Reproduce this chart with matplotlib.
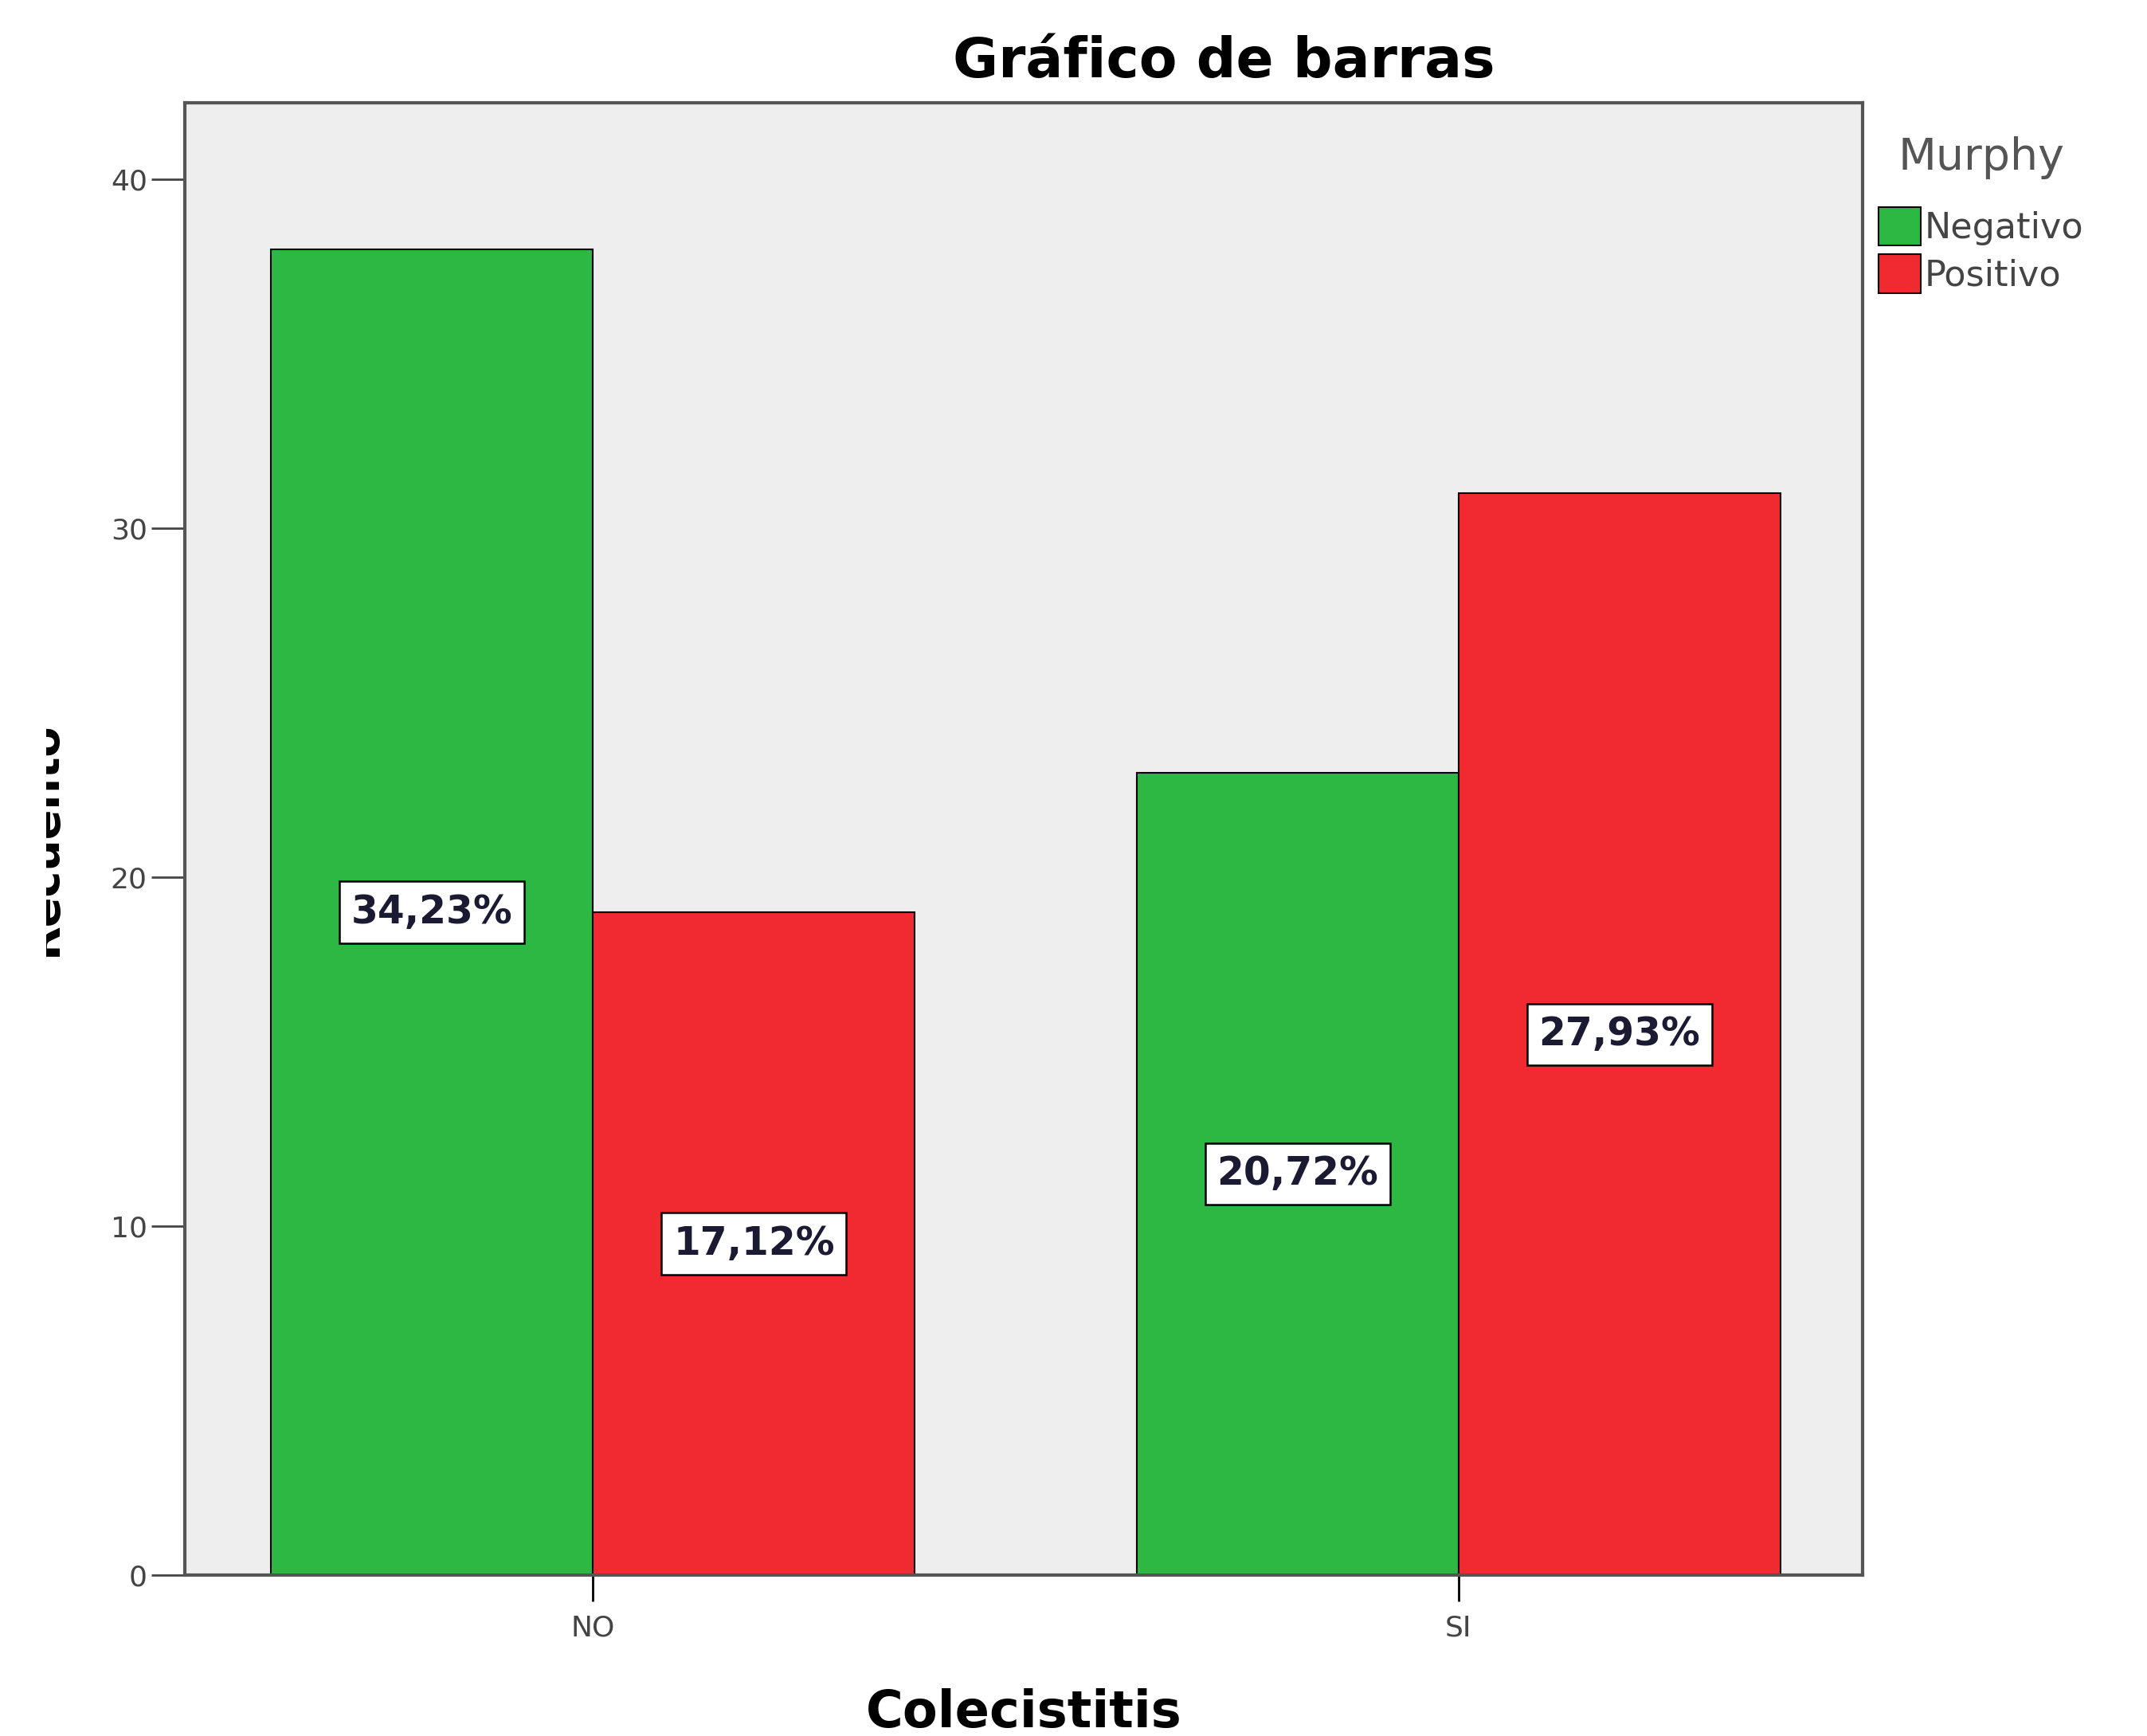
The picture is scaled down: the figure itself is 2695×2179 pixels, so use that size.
import matplotlib.pyplot as plt
import numpy as np
from matplotlib.patches import Rectangle

# datos
categorias = ["NO", "SI"]
murphy = ["Negativo", "Positivo"]
recuento_negativo = [38, 23]
recuento_positivo = [19, 31]
etiquetas_negativo = ["34,23%", "20,72%"]
etiquetas_positivo = ["17,12%", "27,93%"]

verde = "#2db843"
rojo = "#f02a30"

fig = plt.figure(figsize=(26.95, 21.79), dpi=100)
ax = fig.add_axes([232 / 2695, 1 - 1977 / 2179, (2338 - 232) / 2695, (1977 - 129) / 2179])
ax.set_facecolor("#eeeeee")

x = np.arange(len(categorias))
ancho = 0.372

barras_neg = ax.bar(x - ancho / 2, recuento_negativo, ancho, color=verde,
                    edgecolor="black", linewidth=1.5, label=murphy[0])
barras_pos = ax.bar(x + ancho / 2, recuento_positivo, ancho, color=rojo,
                    edgecolor="black", linewidth=1.5, label=murphy[1])

caja = dict(boxstyle="square,pad=0.3", facecolor="white", edgecolor="black", linewidth=1.8)
for barras, etiquetas in [(barras_neg, etiquetas_negativo), (barras_pos, etiquetas_positivo)]:
    for b, txt in zip(barras, etiquetas):
        ax.text(b.get_x() + b.get_width() / 2, b.get_height() / 2, txt,
                ha="center", va="center", fontsize=35, fontweight="bold",
                color="#1a1a33", bbox=caja)

ax.set_xlim(-0.4715, 1.467)
ax.set_ylim(0, 42.2)
ax.set_xticks(x)
ax.set_xticklabels(categorias)
ax.set_yticks([0, 10, 20, 30, 40])

ax.tick_params(axis="both", direction="out", length=30, width=2, colors="#444444",
               labelsize=26, pad=4)
ax.tick_params(axis="x", colors="black", labelcolor="#444444", length=24, pad=12)
for s in ax.spines.values():
    s.set_color("#555555")
    s.set_linewidth(3)

ax.set_xlabel("Colecistitis", fontsize=46, fontweight="bold", labelpad=42)
fig.text(82 / 2695, 1 - 1053 / 2179, "Recuento",
         rotation=90, ha="right", va="center", fontsize=40, fontweight="bold")
fig.suptitle("Gráfico de barras", fontsize=50, fontweight="bold",
             x=894 / 1568, y=1 - 78 / 2179, va="center")

# leyenda (titulo aparte para ajustar la posicion)
fig.text(1447 / 1568, 1 - 115 / 1268, "Murphy", ha="center", va="center",
         fontsize=40, color="#555555")
leg = fig.legend(loc="upper left", bbox_to_anchor=(2340 / 2695, 1 - 242 / 2179),
                 frameon=False, fontsize=32,
                 handlelength=1.2, handleheight=1.3, handletextpad=0.1,
                 labelspacing=0.25, borderaxespad=0)
for t in leg.get_texts():
    t.set_color("#444444")

# franja blanca a la izquierda (la etiqueta aparece recortada)
fig.patches.append(Rectangle((0, 0), 58 / 2695, 1, transform=fig.transFigure,
                             facecolor="white", edgecolor="none", zorder=10))

fig.savefig("out.png", dpi=100)
